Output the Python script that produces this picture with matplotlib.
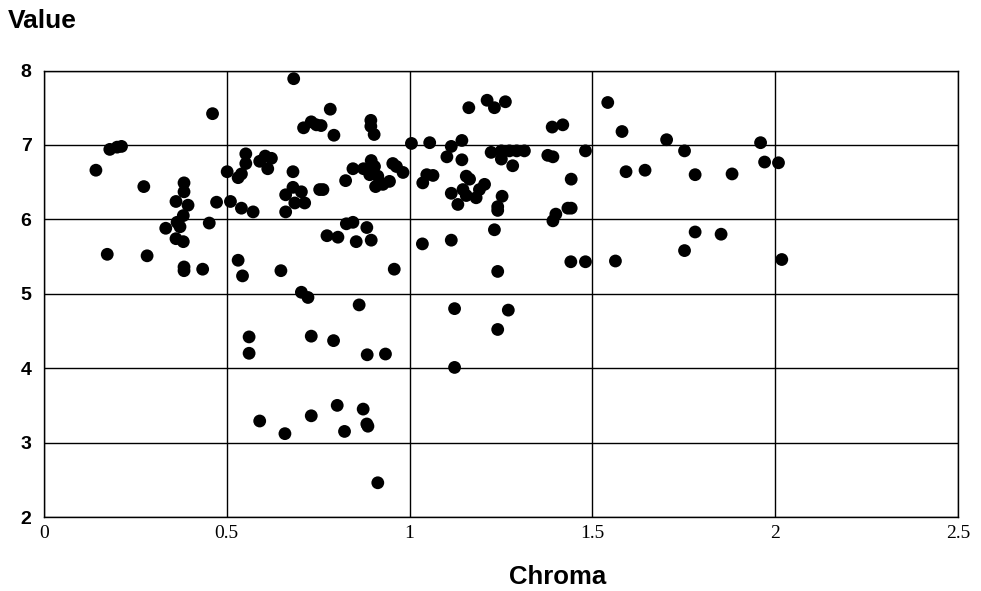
import matplotlib
matplotlib.use("Agg")
import matplotlib.pyplot as plt

chroma = [
    0.142, 0.180, 0.200, 0.212, 0.173, 0.273, 0.282, 0.333, 0.361, 0.361,
    0.364, 0.372, 0.381, 0.381, 0.383, 0.383, 0.394, 0.383, 0.383, 0.434,
    0.452, 0.461, 0.472, 0.501, 0.510, 0.531, 0.540, 0.540, 0.572, 0.552,
    0.552, 0.590, 0.605, 0.622, 0.612, 0.531, 0.543, 0.561, 0.561, 0.590,
    0.648, 0.659, 0.681, 0.683, 0.681, 0.661, 0.704, 0.686, 0.713, 0.661,
    0.704, 0.722, 0.710, 0.731, 0.745, 0.758, 0.731, 0.731, 0.754, 0.763,
    0.774, 0.783, 0.793, 0.792, 0.802, 0.804, 0.822, 0.825, 0.827, 0.845,
    0.845, 0.854, 0.862, 0.873, 0.883, 0.886, 0.874, 0.883, 0.884, 0.894,
    0.894, 0.903, 0.895, 0.904, 0.891, 0.913, 0.907, 0.927, 0.945, 0.954,
    0.964, 0.982, 0.895, 0.913, 0.934, 0.958, 1.005, 1.036, 1.047, 1.064,
    1.035, 1.055, 1.102, 1.114, 1.143, 1.143, 1.114, 1.146, 1.155, 1.155,
    1.164, 1.132, 1.114, 1.123, 1.123, 1.162, 1.182, 1.191, 1.205, 1.212,
    1.223, 1.232, 1.232, 1.241, 1.241, 1.241, 1.241, 1.270, 1.251, 1.251,
    1.253, 1.262, 1.273, 1.282, 1.293, 1.314, 1.378, 1.392, 1.390, 1.419,
    1.392, 1.400, 1.433, 1.442, 1.442, 1.441, 1.481, 1.481, 1.542, 1.563,
    1.581, 1.592, 1.644, 1.703, 1.752, 1.752, 1.781, 1.781, 1.852, 1.882,
    1.960, 1.971, 2.009, 2.018,
]
value = [
    6.66, 6.94, 6.97, 6.98, 5.53, 6.44, 5.51, 5.88, 6.24, 5.74,
    5.96, 5.90, 6.05, 5.70, 6.49, 6.37, 6.19, 5.31, 5.36, 5.33,
    5.95, 7.42, 6.23, 6.64, 6.24, 6.56, 6.61, 6.15, 6.10, 6.88,
    6.75, 6.78, 6.85, 6.82, 6.68, 5.45, 5.24, 4.42, 4.20, 3.29,
    5.31, 3.12, 6.64, 7.89, 6.43, 6.33, 6.37, 6.22, 6.22, 6.10,
    5.02, 4.95, 7.23, 7.31, 7.27, 7.26, 4.43, 3.36, 6.40, 6.40,
    5.78, 7.48, 7.13, 4.37, 3.50, 5.76, 3.15, 6.52, 5.94, 5.96,
    6.68, 5.70, 4.85, 3.45, 3.25, 3.22, 6.68, 5.89, 4.18, 7.33,
    7.25, 7.14, 6.79, 6.71, 6.60, 6.58, 6.44, 6.47, 6.51, 6.75,
    6.71, 6.63, 5.72, 2.46, 4.19, 5.33, 7.02, 6.49, 6.60, 6.59,
    5.67, 7.03, 6.84, 6.98, 7.06, 6.80, 6.35, 6.40, 6.32, 6.58,
    6.54, 6.20, 5.72, 4.80, 4.01, 7.50, 6.29, 6.40, 6.47, 7.60,
    6.90, 7.50, 5.86, 6.17, 6.12, 5.30, 4.52, 4.78, 6.92, 6.81,
    6.31, 7.58, 6.92, 6.72, 6.92, 6.92, 6.86, 6.84, 7.24, 7.27,
    5.98, 6.07, 6.15, 6.15, 6.54, 5.43, 6.92, 5.43, 7.57, 5.44,
    7.18, 6.64, 6.66, 7.07, 6.92, 5.58, 6.60, 5.83, 5.80, 6.61,
    7.03, 6.77, 6.76, 5.46,
]

x_ticks = [0, 0.5, 1, 1.5, 2, 2.5]
x_tick_labels = ["0", "0.5", "1", "1.5", "2", "2.5"]
y_ticks = [2, 3, 4, 5, 6, 7, 8]
y_tick_labels = ["2", "3", "4", "5", "6", "7", "8"]

fig = plt.figure(figsize=(9.81, 5.91), dpi=100)
ax = fig.add_axes([44 / 981, 1 - 517 / 591, (958 - 44) / 981, (517 - 70.5) / 591])

ax.scatter(chroma, value, s=85, color="black", edgecolors="none", zorder=3)

ax.set_xlim(0, 2.5)
ax.set_ylim(2, 8)
ax.set_xticks(x_ticks)
ax.set_xticklabels(x_tick_labels, family="Liberation Serif", fontsize=14)
ax.set_yticks(y_ticks)
ax.set_yticklabels(y_tick_labels, family="Liberation Sans", fontsize=14, fontweight="bold")
ax.tick_params(axis="both", length=0)
ax.tick_params(axis="y", pad=9)
ax.tick_params(axis="x", pad=6)
ax.grid(True, color="black", linewidth=1.0)
ax.set_axisbelow(True)
for sp in ax.spines.values():
    sp.set_color("black")
    sp.set_linewidth(1.0)

fig.text(8 / 981, 1 - 21 / 591, "Value", family="Liberation Sans", fontsize=19,
         fontweight="bold", ha="left", va="center")
fig.text(558 / 981, 1 - 577 / 591, "Chroma", family="Liberation Sans", fontsize=18.5,
         fontweight="bold", ha="center", va="center")

fig.savefig("out.png", dpi=100)
